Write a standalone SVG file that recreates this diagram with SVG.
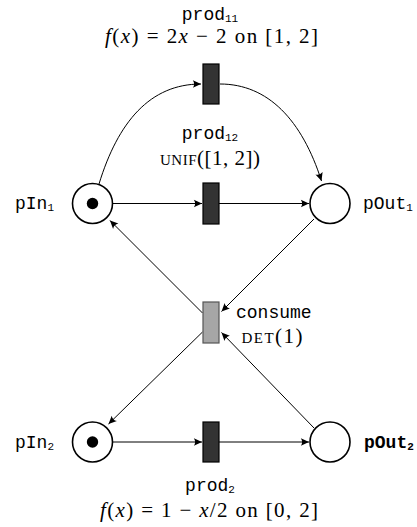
<svg xmlns="http://www.w3.org/2000/svg" width="417" height="527" viewBox="0 0 417 527">
<style>
.place{fill:#fff;stroke:#000;stroke-width:1.6}
.token{fill:#000}
.trans{fill:#333;stroke:#000;stroke-width:1.2}
.trans2{fill:#a6a6a6;stroke:#555;stroke-width:1.2}
.arc{fill:none;stroke:#000;stroke-width:1;marker-end:url(#arr)}
.mono{font-family:"Liberation Mono","DejaVu Sans Mono",monospace;font-size:18px;fill:#000}
.math{font-family:"Liberation Serif","DejaVu Serif",serif;font-size:21px;fill:#000}
.sub{font-size:11px}
.it{font-style:italic}
.sc{font-size:15px}
</style>
<defs>
<marker id="arr" markerUnits="userSpaceOnUse" markerWidth="10" markerHeight="10" refX="0" refY="0" viewBox="-7 -4 8 8" orient="auto">
<path d="M0,0 L-6.5,-3 Q-4.5,0 -6.5,3 Z" fill="#000"/>
</marker>
</defs>
<g id="connectors">
<path class="arc" d="M99,184 C118,122 150,84 201,84"/>
<path class="arc" d="M220,84 C268,84 302,120 321.5,181"/>
<path class="arc" d="M113,203.5 L202,203.5"/>
<path class="arc" d="M219,203.5 L309,203.5"/>
<path class="arc" d="M314,219 L221.5,311.5"/>
<path class="arc" d="M202.5,313 L110,220.5"/>
<path class="arc" d="M202.5,332 L108.5,424"/>
<path class="arc" d="M314,428 L221.5,332.5"/>
<path class="arc" d="M113,442 L202,442"/>
<path class="arc" d="M219,442 L309,442"/>
</g>
<g id="pIn1">
<circle class="place" cx="92.5" cy="203.5" r="20"/>
<circle class="token" cx="92.5" cy="203.5" r="5.7"/>
<text class="mono" x="15" y="209">pIn<tspan class="sub" dy="2">1</tspan></text>
</g>
<g id="pOut1">
<circle class="place" cx="330" cy="203.5" r="20"/>
<text class="mono" x="363" y="209">pOut<tspan class="sub" dy="2">1</tspan></text>
</g>
<g id="pIn2">
<circle class="place" cx="92.5" cy="442" r="20"/>
<circle class="token" cx="92.5" cy="442" r="5.7"/>
<text class="mono" x="15" y="447.5">pIn<tspan class="sub" dy="2">2</tspan></text>
</g>
<g id="pOut2">
<circle class="place" cx="330" cy="442" r="20"/>
<text class="mono" x="364" y="447.5" font-weight="bold">pOut<tspan class="sub" dy="2">2</tspan></text>
</g>
<g id="prod11">
<rect class="trans" x="203" y="64" width="16" height="40"/>
<text class="mono" x="210" y="20" text-anchor="middle">prod<tspan class="sub" dy="2">11</tspan></text>
<text class="math" x="105" y="43" textLength="213" lengthAdjust="spacing"><tspan class="it">f</tspan>(<tspan class="it">x</tspan>) = 2<tspan class="it">x</tspan> − 2 on [1, 2]</text>
</g>
<g id="prod12">
<rect class="trans" x="203" y="183" width="16" height="41"/>
<text class="mono" x="210" y="139" text-anchor="middle">prod<tspan class="sub" dy="2">12</tspan></text>
<text class="math" x="160" y="165" textLength="100" lengthAdjust="spacing"><tspan class="sc">UNIF</tspan>([1, 2])</text>
</g>
<g id="consume">
<rect class="trans2" x="203" y="302" width="16" height="41"/>
<text class="mono" x="236" y="318">consume</text>
<text class="math" x="241.5" y="343" textLength="61" lengthAdjust="spacing"><tspan class="sc">DET</tspan>(1)</text>
</g>
<g id="prod2">
<rect class="trans" x="203" y="422" width="16" height="40"/>
<text class="mono" x="210" y="491" text-anchor="middle">prod<tspan class="sub" dy="2">2</tspan></text>
<text class="math" x="100" y="517" textLength="218" lengthAdjust="spacing"><tspan class="it">f</tspan>(<tspan class="it">x</tspan>) = 1 − <tspan class="it">x</tspan>/2 on [0, 2]</text>
</g>
</svg>
